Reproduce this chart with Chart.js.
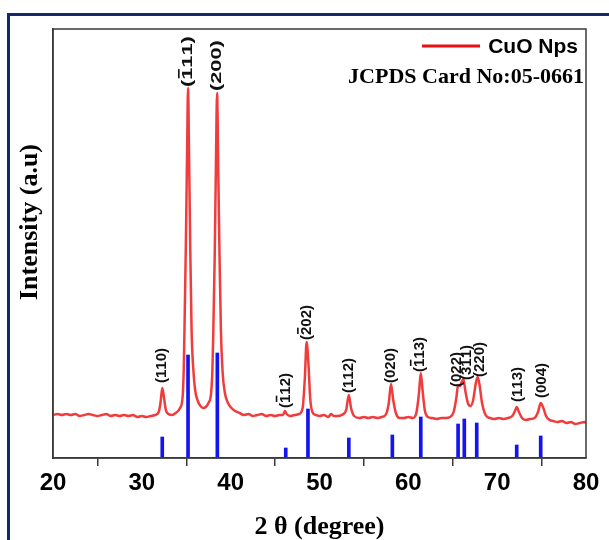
<!DOCTYPE html>
<html>
<head>
<meta charset="utf-8">
<script src="https://cdn.jsdelivr.net/npm/chart.js@4.4.1/dist/chart.umd.min.js"></script>
<style>
  html, body { margin: 0; padding: 0; background: #fff; }
  #wrap { position: relative; width: 609px; height: 540px; overflow: hidden; }
  #frame { position: absolute; left: 7px; top: 13px; width: 700px; height: 700px; border: 3px solid #14296a; box-sizing: border-box; }
  canvas { position: absolute; left: 0; top: 0; }
</style>
</head>
<body>
<div id="wrap"><div id="frame"></div><canvas id="xrdChart" width="609" height="540"></canvas></div>
<script>
// XRD pattern of CuO nanoparticles with JCPDS 05-0661 reference sticks

const twoTheta = [
  20.0, 20.5, 21.0, 21.5, 22.0, 22.5, 23.0, 23.5, 24.0, 24.5, 25.0, 25.5, 26.0, 26.5, 27.0, 27.5,
  28.0, 28.5, 29.0, 29.5, 30.0, 30.5, 31.0, 31.5, 31.9, 32.1, 32.3, 32.5, 32.7, 33.0, 33.4, 33.8,
  34.3, 34.6, 34.72, 34.8, 34.95, 35.1, 35.2, 35.32, 35.45, 35.6, 35.8, 36.0, 36.3, 36.6, 36.9, 37.2,
  37.5, 37.8, 37.95, 38.05, 38.2, 38.35, 38.47, 38.6, 38.75, 38.9, 39.1, 39.35, 39.7, 40.1, 40.5, 41.0,
  41.5, 42.0, 42.5, 43.0, 43.5, 44.0, 44.5, 45.0, 45.5, 45.9, 46.1, 46.3, 46.7, 47.2, 47.7, 48.1,
  48.35, 48.55, 48.75, 48.95, 49.2, 49.6, 50.0, 50.5, 51.0, 51.3, 51.6, 52.0, 52.5, 53.0, 53.3, 53.55,
  53.9, 54.5, 55.0, 55.5, 56.0, 56.5, 57.0, 57.5, 57.8, 58.05, 58.3, 58.6, 59.0, 59.5, 60.0, 60.5,
  60.9, 61.2, 61.4, 61.6, 61.85, 62.2, 62.7, 63.2, 63.7, 64.2, 64.7, 65.1, 65.4, 65.6, 65.8, 66.0,
  66.2, 66.4, 66.7, 67.0, 67.3, 67.6, 67.8, 68.0, 68.3, 68.7, 69.2, 69.7, 70.2, 70.7, 71.2, 71.7,
  72.0, 72.2, 72.45, 72.8, 73.2, 73.7, 74.2, 74.6, 74.9, 75.2, 75.5, 75.9, 76.3, 76.8, 77.3, 77.8,
  78.3, 78.8, 79.3, 79.8, 80.0
];
const intensity = [
  43, 44, 43, 44, 43, 44, 42, 43, 44, 43, 42, 43, 44, 42, 43, 42,
  43, 42, 43, 41, 42, 41, 42, 43, 46, 55, 70, 60, 48, 44, 43, 45,
  50, 62, 90, 128, 210, 310, 370, 300, 210, 128, 88, 68, 57, 52, 50, 51,
  55, 65, 90, 128, 200, 300, 365, 290, 200, 128, 85, 65, 55, 50, 47, 45,
  43, 44, 42, 43, 44, 42, 43, 42, 43, 43, 47, 44, 42, 43, 44, 50,
  80, 116, 95, 60, 46, 43, 42, 43, 41, 44, 42, 42, 43, 48, 63, 50,
  42, 40, 41, 40, 41, 40, 41, 44, 55, 74, 58, 45, 40, 40, 41, 40,
  45, 65, 85, 68, 48, 41, 40, 39, 40, 40, 41, 46, 60, 73, 72, 76,
  79, 68, 55, 52, 58, 75, 81, 74, 55, 43, 40, 39, 40, 39, 40, 42,
  47, 51, 46, 40, 38, 39, 40, 46, 55, 50, 42, 38, 37, 36, 37, 35,
  36, 34, 35, 36, 35
];

// JCPDS card 05-0661 reference lines
const refAngles = [32.3, 35.2, 38.5, 46.2, 48.7, 53.3, 58.2, 61.4, 65.6, 66.3, 67.7, 72.2, 74.9];
const refIntensity = [21, 103, 105, 10, 49, 20, 23, 41, 34, 39, 35, 13, 22];

// Miller indices ('-' marks a bar over the next digit)
const peakLabels = ['(110)', '(-111)', '(200)', '(-112)', '(-202)', '(112)', '(020)', '(-113)', '(022)', '(311)', '(220)', '(113)', '(004)'];
const labelAngles = [32.2, 35.2, 38.5, 46.2, 48.6, 53.3, 58.0, 61.3, 65.5, 66.6, 68.1, 72.3, 75.0];
const labelBase = [75, 371, 367, 50, 118, 65, 75, 86, 71, 78, 81, 56, 60];

const xTicks = [20, 30, 40, 50, 60, 70, 80];

const RED = '#f03c3c';
const BLUE = '#1414f0';
const AXIS = '#3a3a3a';
const SERIF = '"Liberation Serif", "Times New Roman", serif';
const SANS = '"Liberation Sans", Arial, sans-serif';
// the two strongest reflections have their labels drawn taller in the original
const TALL_LABELS = ['(-111)', '(200)'];

function drawHkl(ctx, text, x, y, stretch) {
  ctx.save();
  ctx.translate(x, y);
  ctx.rotate(-Math.PI / 2);
  ctx.scale(stretch, 1);
  ctx.textAlign = 'left';
  ctx.textBaseline = 'middle';
  let cx = 0;
  let bar = false;
  for (const ch of text) {
    if (ch === '-') { bar = true; continue; }
    const w = ctx.measureText(ch).width;
    ctx.fillText(ch, cx, 0);
    if (bar) { ctx.fillRect(cx + 1, -10, w - 2, 1.6); bar = false; }
    cx += w;
  }
  ctx.restore();
}

const decorations = {
  id: 'decorations',
  afterDraw(chart) {
    const { ctx, chartArea: a, scales: { x, y } } = chart;
    ctx.save();
    // plot box
    ctx.strokeStyle = AXIS;
    ctx.lineWidth = 1.5;
    ctx.strokeRect(a.left, a.top, a.right - a.left, a.bottom - a.top);

    // y axis title
    ctx.save();
    ctx.translate(30, 222);
    ctx.rotate(-Math.PI / 2);
    ctx.fillStyle = '#000';
    ctx.textAlign = 'center';
    ctx.textBaseline = 'middle';
    ctx.font = 'bold 26px ' + SERIF;
    ctx.fillText('Intensity (a.u)', 0, 0);
    ctx.restore();

    // peak labels
    ctx.fillStyle = '#111';
    ctx.font = 'bold 15px ' + SANS;
    peakLabels.forEach((lab, i) => {
      const stretch = TALL_LABELS.includes(lab) ? 1.45 : 1;
      drawHkl(ctx, lab, x.getPixelForValue(labelAngles[i]), y.getPixelForValue(labelBase[i]), stretch);
    });

    // legend
    ctx.strokeStyle = '#e81010';
    ctx.lineWidth = 3;
    ctx.beginPath();
    ctx.moveTo(a.right - 164, a.top + 17);
    ctx.lineTo(a.right - 106, a.top + 17);
    ctx.stroke();
    ctx.fillStyle = '#000';
    ctx.textAlign = 'right';
    ctx.textBaseline = 'middle';
    ctx.font = 'bold 21px ' + SANS;
    ctx.fillText(chart.data.datasets[0].label, a.right - 8, a.top + 18);
    ctx.font = 'bold 22px ' + SERIF;
    ctx.fillText('JCPDS Card No:05-0661', a.right - 2, a.top + 48);
    ctx.restore();
  }
};

const ctx = document.getElementById('xrdChart').getContext('2d');

new Chart(ctx, {
  type: 'line',
  data: {
    datasets: [
      {
        label: 'CuO Nps',
        data: twoTheta.map((t, i) => ({ x: t, y: intensity[i] })),
        borderColor: RED,
        borderWidth: 2.5,
        pointRadius: 0,
        cubicInterpolationMode: 'monotone',
        fill: false,
        order: 1
      },
      {
        type: 'bar',
        label: 'JCPDS 05-0661',
        data: refAngles.map((t, i) => ({ x: t, y: refIntensity[i] })),
        backgroundColor: BLUE,
        barThickness: 3,
        order: 2
      }
    ]
  },
  options: {
    responsive: false,
    animation: false,
    layout: { padding: { top: 29, right: 23, left: 0, bottom: 0 } },
    plugins: {
      legend: { display: false },
      tooltip: { enabled: false }
    },
    scales: {
      x: {
        type: 'linear',
        min: 20,
        max: 80,
        offset: false,
        afterFit: (s) => { s.height = 82; },
        afterBuildTicks: (s) => { s.ticks = xTicks.map(v => ({ value: v })); },
        ticks: {
          color: '#000',
          padding: 3,
          font: { family: SANS, size: 24, weight: 'bold' }
        },
        grid: { drawOnChartArea: false, drawTicks: true, tickLength: 8, color: AXIS, lineWidth: 1.5 },
        border: { display: true, color: AXIS, width: 1.5 },
        title: {
          display: true,
          text: '2 θ (degree)',
          color: '#000',
          padding: { top: 0, bottom: -3 },
          font: { family: SERIF, size: 26, weight: 'bold' }
        }
      },
      y: {
        min: 0,
        max: 429,
        afterFit: (s) => { s.width = 53; },
        ticks: { display: false },
        grid: { display: false },
        border: { display: true, color: AXIS, width: 1.5 },
        title: { display: false }
      }
    }
  },
  plugins: [decorations]
});
</script>
</body>
</html>
